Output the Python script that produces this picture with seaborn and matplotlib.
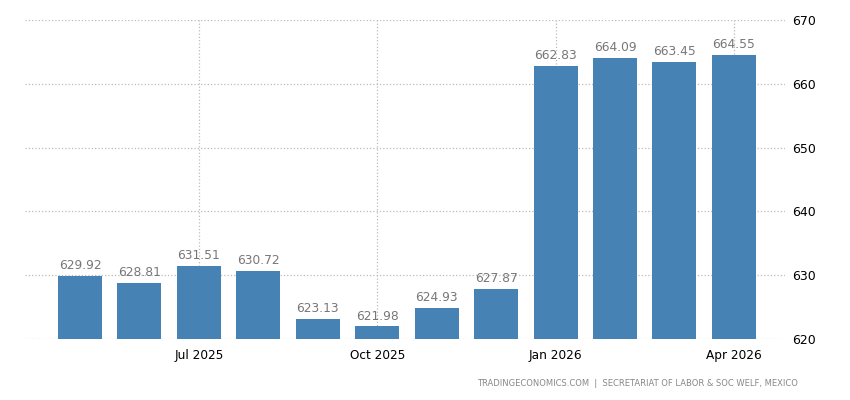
import pandas as pd
import numpy as np
import matplotlib
matplotlib.use('Agg')
import matplotlib.pyplot as plt
import seaborn as sns

# 数据
months = ['May 2025', 'Jun 2025', 'Jul 2025', 'Aug 2025', 'Sep 2025', 'Oct 2025',
          'Nov 2025', 'Dec 2025', 'Jan 2026', 'Feb 2026', 'Mar 2026', 'Apr 2026']
values = [629.92, 628.81, 631.51, 630.72, 623.13, 621.98,
          624.93, 627.87, 662.83, 664.09, 663.45, 664.55]
tick_labels = ['Jul 2025', 'Oct 2025', 'Jan 2026', 'Apr 2026']
y_ticks = [620, 630, 640, 650, 660, 670]

sns.set_style('white')
plt.rcParams['font.family'] = ['DejaVu Sans']

df = pd.DataFrame({'month': months, 'value': values})

fig = plt.figure(figsize=(8.5, 4), dpi=100)
ax = fig.add_axes([25 / 850, 1 - 339 / 400, 760 / 850, 319 / 400])

sns.barplot(data=df, x='month', y='value', color='#4682B4', saturation=1,
            width=0.74, linewidth=0, ax=ax, zorder=3)

ax.set_ylim(620, 670)
ax.set_xlim(-0.925, 11.86)
ax.set_xlabel('')
ax.set_ylabel('')

# 右侧y轴
ax.yaxis.tick_right()
ax.set_yticks(y_ticks)
ax.tick_params(axis='y', length=0, pad=5, labelsize=9, labelcolor='black')

# x轴刻度
tick_pos = [months.index(t) for t in tick_labels]
ax.set_xticks(tick_pos)
ax.set_xticklabels(tick_labels)
ax.tick_params(axis='x', length=4, color='#cccccc', pad=3, labelsize=8.7,
               labelcolor='black')

ax.grid(True, axis='both', linestyle=':', color='#bbbbbb', linewidth=0.9, zorder=0)
for s in ax.spines.values():
    s.set_visible(False)

# 数值标签
for i, v in enumerate(values):
    ax.text(i, v + 0.6, f'{v:.2f}', ha='center', va='bottom',
            fontsize=8.8, color='#777777', zorder=4)

fig.text(798 / 850, 1 - 383 / 400,
         'TRADINGECONOMICS.COM  |  SECRETARIAT OF LABOR & SOC WELF, MEXICO',
         ha='right', va='center', fontsize=6, color='#888888')

fig.savefig('out.png', dpi=100)
